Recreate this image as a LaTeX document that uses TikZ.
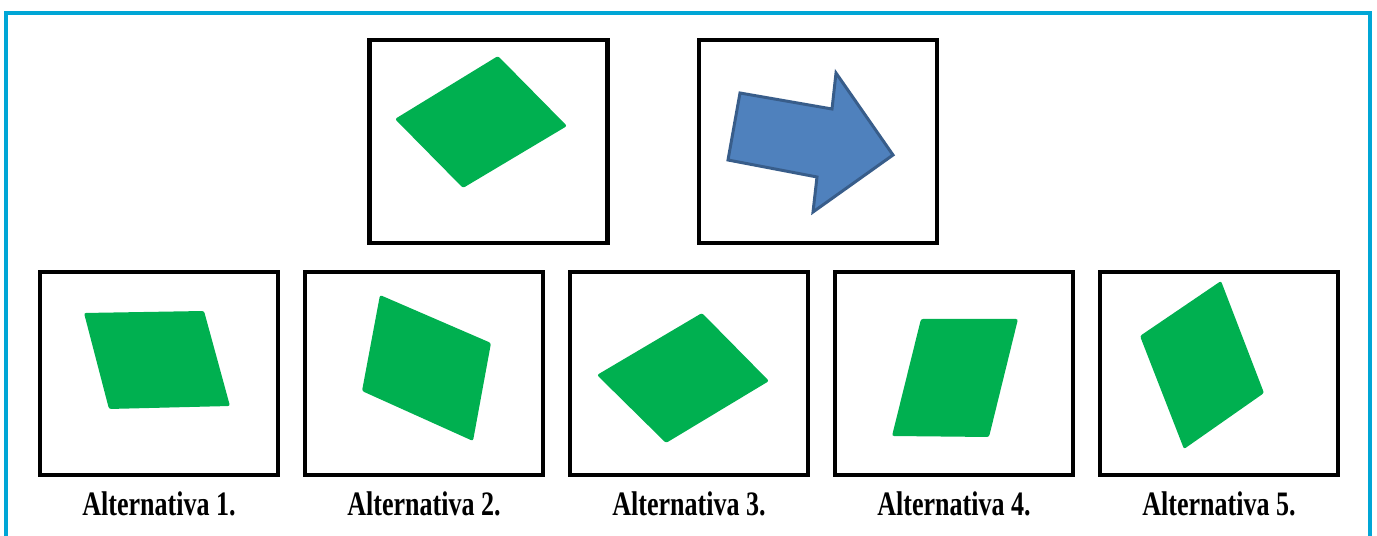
\documentclass[tikz,border=0pt]{standalone}
\usepackage{fontspec}
\setmainfont{Liberation Serif}
\usepackage{graphicx}
\usetikzlibrary{calc}
\definecolor{framecyan}{RGB}{0,166,214}
\definecolor{shapegreen}{RGB}{0,176,80}
\definecolor{arrowfill}{RGB}{79,129,189}
\definecolor{arrowline}{RGB}{56,93,138}
\tikzset{
	panel/.style={draw=black, line width=2.8pt, minimum width=4.76cm, minimum height=4.06cm, inner sep=0pt, outer sep=0pt},
	tile/.style={fill=shapegreen, rounded corners=1.2pt},
	caption/.style={anchor=base, inner sep=0pt, font=\fontsize{19.5}{21}\selectfont\bfseries}
}
\newcommand{\alttext}[1]{\scalebox{0.76}[1]{Alternativa #1.}}

\begin{document}
\begin{tikzpicture}[x=0.02cm, y=-0.02cm]
			%%%%% START %%%%%
			\useasboundingbox (0, 0) rectangle (1377, 536);
			
			\draw[framecyan, line width=2.3pt] (6, 536) -- (6, 13) -- (1370, 13) -- (1370, 536);
			
			\node[panel] (q1) at (488.5, 141.5) {};
			\node[panel] (q2) at (818, 141.5) {};
			
			\fill[tile] (498, 56) -- (567, 126) -- (463, 188) -- (395, 119) -- cycle;
			\filldraw[fill=arrowfill, draw=arrowline, line width=1.7pt] (740, 93) -- (832, 109) -- (836, 73) -- (893, 155) -- (813, 212) -- (817, 177) -- (728, 160) -- cycle;
			
			\foreach \i in {1,...,5} {
				\node[panel] (alt\i) at ({159+265*(\i-1)}, 373.5) {};
				\node[caption] (lab\i) at ($(alt\i.south)+(0, 41)$) {\alttext{\i}};
			}
			
			\fill[tile] (84, 313) -- (204, 311) -- (230, 406) -- (109, 409) -- cycle;
			\fill[tile] (380, 295) -- (491, 343) -- (473, 441) -- (362, 391) -- cycle;
			\fill[tile] (702, 313) -- (769, 381) -- (666, 443) -- (597, 375) -- cycle;
			\fill[tile] (921, 319) -- (1018, 319) -- (989, 437) -- (892, 436) -- cycle;
			\fill[tile] (1221, 281) -- (1264, 393) -- (1184, 449) -- (1140, 336) -- cycle;
			
			%%%%% END %%%%%
\end{tikzpicture}
\end{document}
